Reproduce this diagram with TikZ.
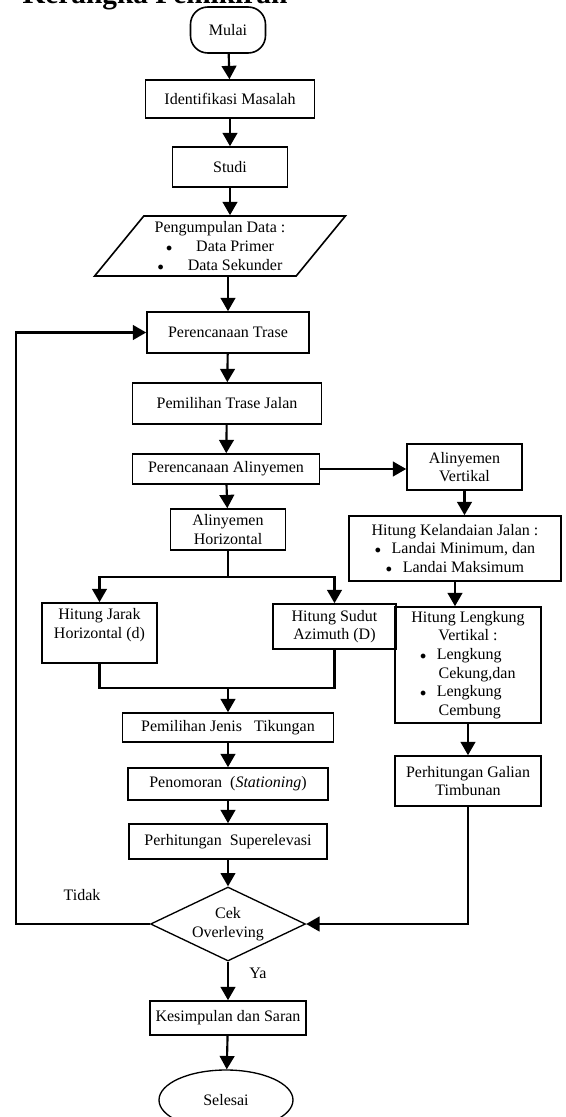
\documentclass[tikz,border=0pt]{standalone}
\usepackage{fontspec}
\setmainfont{Liberation Serif}
\usepackage{tikz}
\usetikzlibrary{positioning,arrows.meta,shapes.geometric}
\tikzset{every node/.style={font=\fontsize{12}{14}\selectfont}}
\newcommand{\bul}{{\small$\bullet$}}

\begin{document}
\begin{tikzpicture}[
  x=0.75pt, y=-0.75pt,
  >={Triangle[length=10pt,width=11pt]},
  line width=1.6pt,
  wh/.style 2 args={minimum width=#1*0.75pt, minimum height=#2*0.75pt},
  box/.style={draw, rectangle, line width=1.2pt, align=center, inner sep=1pt},
  mulaibox/.style={box, rounded corners=13pt},
  databox/.style={draw, trapezium, trapezium left angle=50, trapezium right angle=130,
    trapezium stretches=true, line width=1.2pt, align=center, inner sep=1pt},
  cekbox/.style={draw, diamond, aspect=2.1, line width=1pt, align=center, inner sep=0pt},
  endbox/.style={draw, ellipse, line width=1pt, inner sep=0pt}
]
\useasboundingbox (0,0) rectangle (565,1117);

\node[font=\bfseries\fontsize{22}{26}\selectfont, anchor=base west] (judul) at (17,3) {Kerangka Pemikiran};

\node[mulaibox, wh={75}{46}] (mulai) at (228,30) {Mulai};

\node[box, wh={169}{38}] (ident) at (230,99) {Identifikasi Masalah};

\node[box, wh={115}{40}] (studi) at (230,167) {Studi};

\node[databox, wh={251}{60}] (data) at (220,246)
{Pengumpulan Data :\\
\bul\hspace{18pt}Data Primer\\
\bul\hspace{18pt}Data Sekunder};

\node[box, wh={162}{41}] (trase) at (228,332.5) {Perencanaan Trase};

\node[box, wh={189}{41}] (pemtrase) at (227,403.5) {Pemilihan Trase Jalan};

\node[box, wh={187}{30}] (palin) at (226,469) {Perencanaan Alinyemen};

\node[box, wh={115}{46}] (avert) at (464.5,467) {Alinyemen\\Vertikal};

\node[box, wh={115}{41}] (ahor) at (228,529.5) {Alinyemen\\Horizontal};

\node[box, wh={212}{65}] (hkel) at (455,548.5)
{Hitung Kelandaian Jalan :\\
\bul\hspace{8pt}Landai Minimum, dan\\
\bul\hspace{8pt}Landai Maksimum};

\node[box, wh={115}{60}] (hjarak) at (99.5,633) {Hitung Jarak\\Horizontal (d)\\\mbox{}};

\node[box, wh={123}{45}] (hsudut) at (334.5,626.5) {Hitung Sudut\\Azimuth (D)};

\node[box, wh={146}{116}] (hlv) at (468,665)
{Hitung Lengkung\\Vertikal :\\
\makebox[72pt][l]{\bul\hspace{8pt}Lengkung}\\
\makebox[72pt][l]{\hspace{14pt}Cekung,dan}\\
\makebox[72pt][l]{\bul\hspace{8pt}Lengkung}\\
\makebox[72pt][l]{\hspace{14pt}Cembung}};

\node[box, wh={211}{29}] (pjenis) at (228,727.5) {Pemilihan Jenis\ \ \ Tikungan};

\node[box, wh={200}{32}] (penom) at (228,784) {Penomoran\ \ (\textit{Stationing})};

\node[box, wh={198}{35}] (superel) at (228,841.5) {Perhitungan\ \ Superelevasi};

\node[box, wh={146}{50}] (pgt) at (468,781) {Perhitungan Galian\\Timbunan};

\node[cekbox, wh={155}{74}] (cek) at (228,924) {Cek\\Overleving};

\node[box, wh={156}{34}] (kesimp) at (228,1018) {Kesimpulan dan Saran};

\node[endbox, wh={134}{60}] (selesai) at (226,1100) {Selesai};

\node (tidak) at (82,895) {Tidak};
\node (ya) at (258,973) {Ya};

\coordinate (cabang) at (228,577);
\coordinate (gabung) at (228,688);
\coordinate (balik) at (16,924);

\draw[->] (mulai) -- (ident);
\draw[->] (ident) -- (studi);
\draw[->] (studi.south) -- (studi.south |- data.north);
\draw[->] (trase.north |- data.south) -- (trase.north);
\draw[->] (trase) -- (pemtrase);
\draw[->] (pemtrase) -- (palin);
\draw[->] (palin) -- (ahor);
\draw[->] (palin.east) -- (palin.east -| avert.west);
\draw[->] (avert.south) -- (avert.south |- hkel.north);
\draw[->] (hkel.south) -- (hkel.south |- hlv.north);
\draw[->] (hlv.south) -- (hlv.south |- pgt.north);
\draw (ahor) -- (cabang);
\draw[->] (cabang) -| (hjarak.north);
\draw[->] (cabang) -| (hsudut.north);
\draw (hjarak.south) |- (gabung) -| (hsudut.south);
\draw[->] (gabung) -- (pjenis);
\draw[->] (pjenis) -- (penom);
\draw[->] (penom) -- (superel);
\draw[->] (superel) -- (cek);
\draw[->] (pgt.south) |- (cek.east);
\draw[->] (cek.west) -- (balik) |- (trase.west);
\draw[->] (cek) -- (kesimp);
\draw[->] (kesimp) -- (selesai);

\end{tikzpicture}
\end{document}
